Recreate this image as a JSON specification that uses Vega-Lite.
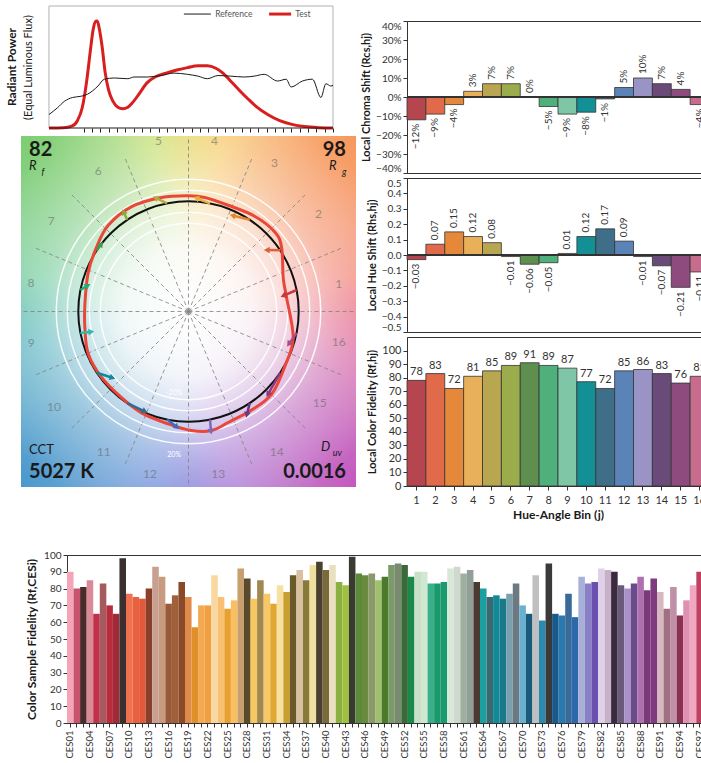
{
  "$schema": "https://vega.github.io/schema/vega-lite/v6.json",
  "background": "white",
  "padding": {"left": 5, "top": 5, "right": 1, "bottom": 1},
  "config": {
    "font": "Lato",
    "view": {"stroke": null},
    "axis": {"labelColor": "#333", "titleColor": "#1a1a1a", "domainColor": "#333", "tickColor": "#333", "grid": false, "labelFontSize": 10, "titleFontSize": 11, "titleFontWeight": "bold", "tickSize": 4, "labelPadding": 2}
  },
  "resolve": {"scale": {"color": "independent", "size": "independent", "strokeWidth": "independent", "angle": "independent"}},
  "datasets": {
    "bins": [
      {"bin": 1, "cs": -0.12, "hs": -0.03, "rf": 78},
      {"bin": 2, "cs": -0.09, "hs": 0.07, "rf": 83},
      {"bin": 3, "cs": -0.04, "hs": 0.15, "rf": 72},
      {"bin": 4, "cs": 0.03, "hs": 0.12, "rf": 81},
      {"bin": 5, "cs": 0.07, "hs": 0.08, "rf": 85},
      {"bin": 6, "cs": 0.07, "hs": -0.01, "rf": 89},
      {"bin": 7, "cs": 0.0, "hs": -0.06, "rf": 91},
      {"bin": 8, "cs": -0.05, "hs": -0.05, "rf": 89},
      {"bin": 9, "cs": -0.09, "hs": 0.01, "rf": 87},
      {"bin": 10, "cs": -0.08, "hs": 0.12, "rf": 77},
      {"bin": 11, "cs": -0.01, "hs": 0.17, "rf": 72},
      {"bin": 12, "cs": 0.05, "hs": 0.09, "rf": 85},
      {"bin": 13, "cs": 0.10, "hs": -0.01, "rf": 86},
      {"bin": 14, "cs": 0.07, "hs": -0.07, "rf": 83},
      {"bin": 15, "cs": 0.04, "hs": -0.21, "rf": 76},
      {"bin": 16, "cs": -0.04, "hs": -0.11, "rf": 81}
    ],
    "ces": [
      {"s": "CES01", "v": 90}, {"s": "CES02", "v": 80}, {"s": "CES03", "v": 81}, {"s": "CES04", "v": 85}, {"s": "CES05", "v": 65},
      {"s": "CES06", "v": 83}, {"s": "CES07", "v": 70}, {"s": "CES08", "v": 65}, {"s": "CES09", "v": 98}, {"s": "CES10", "v": 77},
      {"s": "CES11", "v": 75}, {"s": "CES12", "v": 74}, {"s": "CES13", "v": 80}, {"s": "CES14", "v": 93}, {"s": "CES15", "v": 87},
      {"s": "CES16", "v": 71}, {"s": "CES17", "v": 76}, {"s": "CES18", "v": 84}, {"s": "CES19", "v": 75}, {"s": "CES20", "v": 57},
      {"s": "CES21", "v": 70}, {"s": "CES22", "v": 70}, {"s": "CES23", "v": 88}, {"s": "CES24", "v": 75}, {"s": "CES25", "v": 68},
      {"s": "CES26", "v": 73}, {"s": "CES27", "v": 92}, {"s": "CES28", "v": 86}, {"s": "CES29", "v": 74}, {"s": "CES30", "v": 85},
      {"s": "CES31", "v": 77}, {"s": "CES32", "v": 71}, {"s": "CES33", "v": 82}, {"s": "CES34", "v": 78}, {"s": "CES35", "v": 88},
      {"s": "CES36", "v": 91}, {"s": "CES37", "v": 85}, {"s": "CES38", "v": 94}, {"s": "CES39", "v": 96}, {"s": "CES40", "v": 91},
      {"s": "CES41", "v": 94}, {"s": "CES42", "v": 84}, {"s": "CES43", "v": 82}, {"s": "CES44", "v": 99}, {"s": "CES45", "v": 89},
      {"s": "CES46", "v": 88}, {"s": "CES47", "v": 89}, {"s": "CES48", "v": 85}, {"s": "CES49", "v": 87}, {"s": "CES50", "v": 94},
      {"s": "CES51", "v": 95}, {"s": "CES52", "v": 94}, {"s": "CES53", "v": 87}, {"s": "CES54", "v": 90}, {"s": "CES55", "v": 90},
      {"s": "CES56", "v": 83}, {"s": "CES57", "v": 83}, {"s": "CES58", "v": 84}, {"s": "CES59", "v": 92}, {"s": "CES60", "v": 93},
      {"s": "CES61", "v": 89}, {"s": "CES62", "v": 91}, {"s": "CES63", "v": 84}, {"s": "CES64", "v": 80}, {"s": "CES65", "v": 75},
      {"s": "CES66", "v": 76}, {"s": "CES67", "v": 74}, {"s": "CES68", "v": 77}, {"s": "CES69", "v": 83}, {"s": "CES70", "v": 70},
      {"s": "CES71", "v": 65}, {"s": "CES72", "v": 88}, {"s": "CES73", "v": 61}, {"s": "CES74", "v": 95}, {"s": "CES75", "v": 65},
      {"s": "CES76", "v": 64}, {"s": "CES77", "v": 77}, {"s": "CES78", "v": 63}, {"s": "CES79", "v": 87}, {"s": "CES80", "v": 83},
      {"s": "CES81", "v": 84}, {"s": "CES82", "v": 92}, {"s": "CES83", "v": 91}, {"s": "CES84", "v": 90}, {"s": "CES85", "v": 82},
      {"s": "CES86", "v": 80}, {"s": "CES87", "v": 83}, {"s": "CES88", "v": 87}, {"s": "CES89", "v": 79}, {"s": "CES90", "v": 86},
      {"s": "CES91", "v": 78}, {"s": "CES92", "v": 68}, {"s": "CES93", "v": 81}, {"s": "CES94", "v": 64}, {"s": "CES95", "v": 73},
      {"s": "CES96", "v": 82}, {"s": "CES97", "v": 90}, {"s": "CES98", "v": 83}, {"s": "CES99", "v": 85}
    ],
    "spd": [
      {"series": "Test", "wl": 380, "p": 0}, {"series": "Test", "wl": 400, "p": 0.002}, {"series": "Test", "wl": 412, "p": 0.015},
      {"series": "Test", "wl": 420, "p": 0.06}, {"series": "Test", "wl": 427, "p": 0.17}, {"series": "Test", "wl": 433, "p": 0.38},
      {"series": "Test", "wl": 438, "p": 0.62}, {"series": "Test", "wl": 442, "p": 0.8}, {"series": "Test", "wl": 446, "p": 0.875},
      {"series": "Test", "wl": 448, "p": 0.877}, {"series": "Test", "wl": 451, "p": 0.81}, {"series": "Test", "wl": 455, "p": 0.66},
      {"series": "Test", "wl": 459, "p": 0.46}, {"series": "Test", "wl": 464, "p": 0.31}, {"series": "Test", "wl": 470, "p": 0.22},
      {"series": "Test", "wl": 477, "p": 0.17}, {"series": "Test", "wl": 484, "p": 0.158}, {"series": "Test", "wl": 491, "p": 0.17},
      {"series": "Test", "wl": 498, "p": 0.21}, {"series": "Test", "wl": 507, "p": 0.28}, {"series": "Test", "wl": 518, "p": 0.37},
      {"series": "Test", "wl": 530, "p": 0.42}, {"series": "Test", "wl": 545, "p": 0.45}, {"series": "Test", "wl": 560, "p": 0.475},
      {"series": "Test", "wl": 575, "p": 0.495}, {"series": "Test", "wl": 590, "p": 0.51}, {"series": "Test", "wl": 603, "p": 0.51},
      {"series": "Test", "wl": 615, "p": 0.49}, {"series": "Test", "wl": 625, "p": 0.45}, {"series": "Test", "wl": 635, "p": 0.39},
      {"series": "Test", "wl": 648, "p": 0.31}, {"series": "Test", "wl": 660, "p": 0.24}, {"series": "Test", "wl": 672, "p": 0.175},
      {"series": "Test", "wl": 688, "p": 0.11}, {"series": "Test", "wl": 705, "p": 0.06}, {"series": "Test", "wl": 722, "p": 0.03},
      {"series": "Test", "wl": 740, "p": 0.012}, {"series": "Test", "wl": 760, "p": 0.003}, {"series": "Test", "wl": 780, "p": 0},
      {"series": "Reference", "wl": 380, "p": 0.11}, {"series": "Reference", "wl": 392, "p": 0.166}, {"series": "Reference", "wl": 402, "p": 0.22},
      {"series": "Reference", "wl": 413, "p": 0.25}, {"series": "Reference", "wl": 425, "p": 0.26}, {"series": "Reference", "wl": 434, "p": 0.276},
      {"series": "Reference", "wl": 449, "p": 0.344}, {"series": "Reference", "wl": 458, "p": 0.4}, {"series": "Reference", "wl": 472, "p": 0.41},
      {"series": "Reference", "wl": 491, "p": 0.404}, {"series": "Reference", "wl": 500, "p": 0.418}, {"series": "Reference", "wl": 519, "p": 0.418},
      {"series": "Reference", "wl": 538, "p": 0.43}, {"series": "Reference", "wl": 556, "p": 0.45}, {"series": "Reference", "wl": 575, "p": 0.44},
      {"series": "Reference", "wl": 590, "p": 0.425}, {"series": "Reference", "wl": 603, "p": 0.404}, {"series": "Reference", "wl": 618, "p": 0.43},
      {"series": "Reference", "wl": 636, "p": 0.425}, {"series": "Reference", "wl": 655, "p": 0.418}, {"series": "Reference", "wl": 669, "p": 0.425},
      {"series": "Reference", "wl": 683, "p": 0.44}, {"series": "Reference", "wl": 702, "p": 0.385}, {"series": "Reference", "wl": 714, "p": 0.4},
      {"series": "Reference", "wl": 721, "p": 0.336}, {"series": "Reference", "wl": 737, "p": 0.385}, {"series": "Reference", "wl": 751, "p": 0.4},
      {"series": "Reference", "wl": 763, "p": 0.25}, {"series": "Reference", "wl": 770, "p": 0.363}, {"series": "Reference", "wl": 777, "p": 0.344},
      {"series": "Reference", "wl": 780, "p": 0.35}
    ],
    "frameG": [
      {"wl": 380, "wl2": 780, "p": 1, "p2": 1},
      {"wl": 780, "wl2": 780, "p": 0, "p2": 1},
      {"wl": 380, "wl2": 380, "p": 0, "p2": 1}
    ],
    "frameB": [{"wl": 380, "wl2": 780, "p": 0, "p2": 0}],
    "bgbox": [{"x": -1.52, "y": -1.5926, "x2": 1.52, "y2": 1.5926}],
    "spokes": [
      {"x": 0, "y": 0, "x2": 1.52, "y2": 0}, {"x": 0, "y": 0, "x2": 1.386, "y2": 0.574},
      {"x": 0, "y": 0, "x2": 1.061, "y2": 1.061}, {"x": 0, "y": 0, "x2": 0.574, "y2": 1.386},
      {"x": 0, "y": 0, "x2": 0, "y2": 1.59}, {"x": 0, "y": 0, "x2": -0.574, "y2": 1.386},
      {"x": 0, "y": 0, "x2": -1.061, "y2": 1.061}, {"x": 0, "y": 0, "x2": -1.386, "y2": 0.574},
      {"x": 0, "y": 0, "x2": -1.52, "y2": 0}, {"x": 0, "y": 0, "x2": -1.386, "y2": -0.574},
      {"x": 0, "y": 0, "x2": -1.061, "y2": -1.061}, {"x": 0, "y": 0, "x2": -0.574, "y2": -1.386},
      {"x": 0, "y": 0, "x2": 0, "y2": -1.59}, {"x": 0, "y": 0, "x2": 0.574, "y2": -1.386},
      {"x": 0, "y": 0, "x2": 1.061, "y2": -1.061}, {"x": 0, "y": 0, "x2": 1.386, "y2": -0.574}
    ],
    "rings": [{"x": 0, "y": 0, "r": 0.8}, {"x": 0, "y": 0, "r": 0.9}, {"x": 0, "y": 0, "r": 1.1}, {"x": 0, "y": 0, "r": 1.2}],
    "refring": [{"x": 0, "y": 0, "r": 1.0}],
    "binlab": [
      {"bin": 1, "x": 1.364, "y": 0.246}, {"bin": 2, "x": 1.18, "y": 0.883}, {"bin": 3, "x": 0.78, "y": 1.347},
      {"bin": 4, "x": 0.236, "y": 1.547}, {"bin": 5, "x": -0.273, "y": 1.547}, {"bin": 6, "x": -0.82, "y": 1.272},
      {"bin": 7, "x": -1.245, "y": 0.819}, {"bin": 8, "x": -1.43, "y": 0.257}, {"bin": 9, "x": -1.427, "y": -0.289},
      {"bin": 10, "x": -1.22, "y": -0.866}, {"bin": 11, "x": -0.77, "y": -1.272}, {"bin": 12, "x": -0.35, "y": -1.475},
      {"bin": 13, "x": 0.27, "y": -1.475}, {"bin": 14, "x": 0.8, "y": -1.272}, {"bin": 15, "x": 1.19, "y": -0.834},
      {"bin": 16, "x": 1.364, "y": -0.273}
    ],
    "pct": [{"x": -0.13, "y": -0.74, "t": "-20%"}, {"x": -0.13, "y": -1.3, "t": "20%"}],
    "testcurve": [
      {"i": 0, "x": 0.0, "y": 1.05}, {"i": 1, "x": -0.245, "y": 1.035}, {"i": 2, "x": -0.52, "y": 0.95},
      {"i": 3, "x": -0.73, "y": 0.78}, {"i": 4, "x": -0.836, "y": 0.58}, {"i": 5, "x": -0.91, "y": 0.355},
      {"i": 6, "x": -0.94, "y": 0.07}, {"i": 7, "x": -0.94, "y": -0.156}, {"i": 8, "x": -0.91, "y": -0.383},
      {"i": 9, "x": -0.79, "y": -0.596}, {"i": 10, "x": -0.61, "y": -0.78}, {"i": 11, "x": -0.427, "y": -0.92},
      {"i": 12, "x": -0.185, "y": -1.02}, {"i": 13, "x": 0.027, "y": -1.08}, {"i": 14, "x": 0.21, "y": -1.08},
      {"i": 15, "x": 0.36, "y": -1.007}, {"i": 16, "x": 0.573, "y": -0.894}, {"i": 17, "x": 0.755, "y": -0.75},
      {"i": 18, "x": 0.875, "y": -0.496}, {"i": 19, "x": 0.95, "y": -0.24}, {"i": 20, "x": 0.89, "y": 0.128},
      {"i": 21, "x": 0.86, "y": 0.3}, {"i": 22, "x": 0.845, "y": 0.58}, {"i": 23, "x": 0.785, "y": 0.72},
      {"i": 24, "x": 0.6, "y": 0.865}, {"i": 25, "x": 0.36, "y": 0.964}, {"i": 26, "x": 0.148, "y": 1.035}
    ],
    "arrows": [
      {"bin": 1, "x": 0.981, "y": 0.195, "x2": 0.868, "y2": 0.146, "dir": 247},
      {"bin": 2, "x": 0.832, "y": 0.556, "x2": 0.719, "y2": 0.557, "dir": 271},
      {"bin": 3, "x": 0.556, "y": 0.832, "x2": 0.408, "y2": 0.869, "dir": 284},
      {"bin": 4, "x": 0.195, "y": 0.981, "x2": 0.078, "y2": 1.027, "dir": 291},
      {"bin": 5, "x": -0.195, "y": 0.981, "x2": -0.292, "y2": 1.029, "dir": 296},
      {"bin": 6, "x": -0.556, "y": 0.832, "x2": -0.586, "y2": 0.896, "dir": 335},
      {"bin": 7, "x": -0.832, "y": 0.556, "x2": -0.797, "y2": 0.605, "dir": 35},
      {"bin": 8, "x": -0.981, "y": 0.195, "x2": -0.921, "y2": 0.232, "dir": 58},
      {"bin": 9, "x": -0.981, "y": -0.195, "x2": -0.891, "y2": -0.186, "dir": 84},
      {"bin": 10, "x": -0.832, "y": -0.556, "x2": -0.698, "y2": -0.599, "dir": 108},
      {"bin": 11, "x": -0.556, "y": -0.832, "x2": -0.403, "y2": -0.904, "dir": 115},
      {"bin": 12, "x": -0.195, "y": -0.981, "x2": -0.111, "y2": -1.044, "dir": 127},
      {"bin": 13, "x": 0.195, "y": -0.981, "x2": 0.204, "y2": -1.081, "dir": 175},
      {"bin": 14, "x": 0.556, "y": -0.832, "x2": 0.531, "y2": -0.929, "dir": 194},
      {"bin": 15, "x": 0.832, "y": -0.556, "x2": 0.725, "y2": -0.745, "dir": 209},
      {"bin": 16, "x": 0.981, "y": -0.195, "x2": 0.915, "y2": -0.289, "dir": 215}
    ]
  },
  "vconcat": [
    {
      "resolve": {"scale": {"color": "independent", "size": "independent", "strokeWidth": "independent", "angle": "independent"}},
      "hconcat": [
        {
          "resolve": {"scale": {"color": "independent", "size": "independent", "strokeWidth": "independent", "angle": "independent"}},
          "vconcat": [
            {
              "width": 312,
              "height": 122,
              "view": {"stroke": null},
              "title": {"text": "Radiant Power", "orient": "left", "fontSize": 12, "fontWeight": "bold", "offset": 2, "color": "#1a1a1a"},
              "encoding": {
                "x": {"field": "wl", "type": "quantitative", "scale": {"domain": [340.6, 780], "nice": false, "zero": false},
                      "axis": {"title": null, "domain": false, "labels": false, "ticks": true, "tickColor": "#222", "tickSize": 4, "tickCount": 40,
                               "values": [429, 440.7, 452.4, 464.1, 475.8, 487.5, 499.2, 510.9, 522.6, 534.3, 546, 557.7, 569.4, 581.1, 592.8, 604.5, 616.2, 627.9, 639.6, 651.3, 663, 674.7, 686.4, 698.1, 709.8, 721.5, 733.2, 744.9, 756.6, 768.3, 780]}},
                "y": {"field": "p", "type": "quantitative", "scale": {"domain": [0, 1], "nice": false},
                      "axis": {"title": "(Equal Luminous Flux)", "titleFontWeight": "normal", "titleFontSize": 11, "domain": false, "ticks": false, "labels": false, "offset": -28, "titlePadding": 16}}
              },
              "layer": [
                {"data": {"name": "frameG"}, "mark": {"type": "rule", "color": "#b0b0b0", "strokeWidth": 1},
                 "encoding": {"x2": {"field": "wl2"}, "y2": {"field": "p2"}}},
                {"data": {"name": "spd"}, "mark": {"type": "line", "interpolate": "monotone"},
                 "encoding": {
                   "color": {"field": "series", "type": "nominal", "scale": {"domain": ["Reference", "Test"], "range": ["#1a1a1a", "#d91e1e"]}, "legend": null},
                   "strokeWidth": {"field": "series", "type": "nominal", "scale": {"domain": ["Reference", "Test"], "range": [1, 3]}, "legend": null}
                 }},
                {"data": {"name": "frameB"}, "mark": {"type": "rule", "color": "#1a1a1a", "strokeWidth": 1.2},
                 "encoding": {"x2": {"field": "wl2"}, "y2": {"field": "p2"}}},
                {"data": {"values": [{"wl": 570, "wl2": 608, "p": 0.934, "p2": 0.934}]}, "mark": {"type": "rule", "color": "#1a1a1a", "strokeWidth": 1},
                 "encoding": {"x2": {"field": "wl2"}, "y2": {"field": "p2"}}},
                {"data": {"values": [{"wl": 690, "wl2": 721, "p": 0.934, "p2": 0.934}]}, "mark": {"type": "rule", "color": "#d91e1e", "strokeWidth": 3},
                 "encoding": {"x2": {"field": "wl2"}, "y2": {"field": "p2"}}},
                {"data": {"values": [{"wl": 614, "p": 0.934, "t": "Reference"}, {"wl": 727, "p": 0.934, "t": "Test"}]},
                 "mark": {"type": "text", "align": "left", "baseline": "middle", "fontSize": 8.5, "color": "#555"},
                 "encoding": {"text": {"field": "t"}}}
              ]
            },
            {
              "width": 335,
              "height": 351,
              "view": {"stroke": null},
              "encoding": {
                "x": {"field": "x", "type": "quantitative", "scale": {"domain": [-1.52, 1.52], "nice": false, "zero": false}, "axis": null},
                "y": {"field": "y", "type": "quantitative", "scale": {"domain": [-1.5926, 1.5926], "nice": false, "zero": false}, "axis": null}
              },
              "layer": [
                {"data": {"name": "bgbox"}, "mark": {"type": "rect", "fill": "#f3f1ef"}, "encoding": {"x2": {"field": "x2"}, "y2": {"field": "y2"}}},
                {"data": {"name": "bgbox"}, "mark": {"type": "rect", "fill": {"gradient": "radial", "x1": 0.5, "y1": 0, "r1": 0, "x2": 0.5, "y2": 0, "r2": 0.6, "stops": [{"offset": 0, "color": "rgba(250,238,120,1)"}, {"offset": 0.5, "color": "rgba(250,238,120,0.55)"}, {"offset": 1, "color": "rgba(250,238,120,0)"}]}}, "encoding": {"x2": {"field": "x2"}, "y2": {"field": "y2"}}},
                {"data": {"name": "bgbox"}, "mark": {"type": "rect", "fill": {"gradient": "radial", "x1": 1, "y1": 0.5, "r1": 0, "x2": 1, "y2": 0.5, "r2": 0.6, "stops": [{"offset": 0, "color": "rgba(240,120,140,1)"}, {"offset": 0.5, "color": "rgba(240,120,140,0.55)"}, {"offset": 1, "color": "rgba(240,120,140,0)"}]}}, "encoding": {"x2": {"field": "x2"}, "y2": {"field": "y2"}}},
                {"data": {"name": "bgbox"}, "mark": {"type": "rect", "fill": {"gradient": "radial", "x1": 0.5, "y1": 1, "r1": 0, "x2": 0.5, "y2": 1, "r2": 0.6, "stops": [{"offset": 0, "color": "rgba(140,140,230,1)"}, {"offset": 0.5, "color": "rgba(140,140,230,0.55)"}, {"offset": 1, "color": "rgba(140,140,230,0)"}]}}, "encoding": {"x2": {"field": "x2"}, "y2": {"field": "y2"}}},
                {"data": {"name": "bgbox"}, "mark": {"type": "rect", "fill": {"gradient": "radial", "x1": 0, "y1": 0.5, "r1": 0, "x2": 0, "y2": 0.5, "r2": 0.6, "stops": [{"offset": 0, "color": "rgba(100,200,185,1)"}, {"offset": 0.5, "color": "rgba(100,200,185,0.55)"}, {"offset": 1, "color": "rgba(100,200,185,0)"}]}}, "encoding": {"x2": {"field": "x2"}, "y2": {"field": "y2"}}},
                {"data": {"name": "bgbox"}, "mark": {"type": "rect", "fill": {"gradient": "radial", "x1": 0, "y1": 0, "r1": 0, "x2": 0, "y2": 0, "r2": 0.6, "stops": [{"offset": 0, "color": "rgba(120,205,110,1)"}, {"offset": 0.5, "color": "rgba(120,205,110,0.55)"}, {"offset": 1, "color": "rgba(120,205,110,0)"}]}}, "encoding": {"x2": {"field": "x2"}, "y2": {"field": "y2"}}},
                {"data": {"name": "bgbox"}, "mark": {"type": "rect", "fill": {"gradient": "radial", "x1": 1, "y1": 0, "r1": 0, "x2": 1, "y2": 0, "r2": 0.6, "stops": [{"offset": 0, "color": "rgba(248,150,90,1)"}, {"offset": 0.5, "color": "rgba(248,150,90,0.55)"}, {"offset": 1, "color": "rgba(248,150,90,0)"}]}}, "encoding": {"x2": {"field": "x2"}, "y2": {"field": "y2"}}},
                {"data": {"name": "bgbox"}, "mark": {"type": "rect", "fill": {"gradient": "radial", "x1": 1, "y1": 1, "r1": 0, "x2": 1, "y2": 1, "r2": 0.6, "stops": [{"offset": 0, "color": "rgba(195,85,190,1)"}, {"offset": 0.5, "color": "rgba(195,85,190,0.55)"}, {"offset": 1, "color": "rgba(195,85,190,0)"}]}}, "encoding": {"x2": {"field": "x2"}, "y2": {"field": "y2"}}},
                {"data": {"name": "bgbox"}, "mark": {"type": "rect", "fill": {"gradient": "radial", "x1": 0, "y1": 1, "r1": 0, "x2": 0, "y2": 1, "r2": 0.6, "stops": [{"offset": 0, "color": "rgba(70,150,205,1)"}, {"offset": 0.5, "color": "rgba(70,150,205,0.55)"}, {"offset": 1, "color": "rgba(70,150,205,0)"}]}}, "encoding": {"x2": {"field": "x2"}, "y2": {"field": "y2"}}},
                {"data": {"name": "bgbox"}, "mark": {"type": "rect", "fill": {"gradient": "radial", "x1": 0.5, "y1": 0.5, "r1": 0, "x2": 0.5, "y2": 0.5, "r2": 0.62, "stops": [{"offset": 0, "color": "rgba(255,255,255,1)"}, {"offset": 0.3, "color": "rgba(255,255,255,0.85)"}, {"offset": 0.65, "color": "rgba(255,255,255,0.35)"}, {"offset": 1, "color": "rgba(255,255,255,0)"}]}}, "encoding": {"x2": {"field": "x2"}, "y2": {"field": "y2"}}},
                {"data": {"name": "spokes"}, "mark": {"type": "rule", "color": "#858585", "strokeDash": [4, 3], "strokeWidth": 1, "opacity": 0.85},
                 "encoding": {"x2": {"field": "x2"}, "y2": {"field": "y2"}}},
                {"data": {"name": "rings"}, "mark": {"type": "point", "shape": "circle", "filled": false, "color": "white", "strokeWidth": 1.5, "opacity": 0.9},
                 "encoding": {"size": {"field": "r", "type": "quantitative", "scale": {"type": "pow", "exponent": 2, "domain": [0, 1.2], "range": [0, 69950]}, "legend": null}}},
                {"data": {"name": "binlab"}, "mark": {"type": "text", "fontSize": 12, "color": "#6a6a6a", "opacity": 0.6},
                 "encoding": {"text": {"field": "bin"}}},
                {"data": {"name": "pct"}, "mark": {"type": "text", "fontSize": 7, "color": "white"},
                 "encoding": {"text": {"field": "t"}}},
                {"data": {"name": "refring"}, "mark": {"type": "point", "shape": "circle", "filled": false, "color": "#111111", "strokeWidth": 2, "opacity": 1},
                 "encoding": {"size": {"field": "r", "type": "quantitative", "scale": {"type": "pow", "exponent": 2, "domain": [0, 1.2], "range": [0, 69950]}, "legend": null}}},
                {"data": {"name": "testcurve"}, "mark": {"type": "line", "interpolate": "cardinal-closed", "color": "#e8473a", "strokeWidth": 3},
                 "encoding": {"order": {"field": "i", "type": "quantitative"}}},
                {"data": {"name": "arrows"}, "mark": {"type": "rule", "strokeWidth": 2.5},
                 "encoding": {"x2": {"field": "x2"}, "y2": {"field": "y2"},
                              "color": {"field": "bin", "type": "ordinal", "scale": {"range": ["#c8383e", "#e0603e", "#e8862e", "#e8b040", "#b8a640", "#8aaa40", "#3f9a55", "#2aa878", "#38b8a8", "#108a9a", "#2a6e98", "#3f6ab8", "#7a6ab8", "#6a3a80", "#8a3a80", "#b04a80"]}, "legend": null}}},
                {"data": {"name": "arrows"}, "mark": {"type": "point", "shape": "triangle", "filled": true, "size": 45, "opacity": 1},
                 "encoding": {"x": {"field": "x2", "type": "quantitative", "scale": {"domain": [-1.52, 1.52], "nice": false, "zero": false}, "axis": null},
                              "y": {"field": "y2", "type": "quantitative", "scale": {"domain": [-1.5926, 1.5926], "nice": false, "zero": false}, "axis": null},
                              "angle": {"field": "dir", "type": "quantitative", "scale": {"domain": [0, 360], "range": [0, 360]}},
                              "color": {"field": "bin", "type": "ordinal", "scale": {"range": ["#c8383e", "#e0603e", "#e8862e", "#e8b040", "#b8a640", "#8aaa40", "#3f9a55", "#2aa878", "#38b8a8", "#108a9a", "#2a6e98", "#3f6ab8", "#7a6ab8", "#6a3a80", "#8a3a80", "#b04a80"]}, "legend": null}}},
                {"data": {"values": [{"x": -1.447, "y": 1.556, "t": "82"}, {"x": -1.447, "y": -1.366, "t": "5027 K"}]},
                 "mark": {"type": "text", "align": "left", "baseline": "top", "fontSize": 20, "fontWeight": "bold", "color": "#1a1a1a"},
                 "encoding": {"text": {"field": "t"}}},
                {"data": {"values": [{"x": 1.429, "y": 1.556, "t": "98"}, {"x": 1.429, "y": -1.366, "t": "0.0016"}]},
                 "mark": {"type": "text", "align": "right", "baseline": "top", "fontSize": 20, "fontWeight": "bold", "color": "#1a1a1a"},
                 "encoding": {"text": {"field": "t"}}},
                {"data": {"values": [{"x": -1.447, "y": 1.375, "t": "R"}, {"x": 1.275, "y": 1.375, "t": "R"}, {"x": 1.202, "y": -1.175, "t": "D"}]},
                 "mark": {"type": "text", "align": "left", "baseline": "top", "fontSize": 13, "fontStyle": "italic", "color": "#1a1a1a"},
                 "encoding": {"text": {"field": "t"}}},
                {"data": {"values": [{"x": -1.335, "y": 1.3, "t": "f"}, {"x": 1.392, "y": 1.3, "t": "g"}, {"x": 1.31, "y": -1.25, "t": "uv"}]},
                 "mark": {"type": "text", "align": "left", "baseline": "top", "fontSize": 9, "fontStyle": "italic", "color": "#1a1a1a"},
                 "encoding": {"text": {"field": "t"}}},
                {"data": {"values": [{"x": -1.447, "y": -1.2, "t": "CCT"}]},
                 "mark": {"type": "text", "align": "left", "baseline": "top", "fontSize": 13, "color": "#1a1a1a"},
                 "encoding": {"text": {"field": "t"}}}
              ]
            }
          ],
          "spacing": 1
        },
        {
          "resolve": {"scale": {"color": "independent", "size": "independent", "strokeWidth": "independent", "angle": "independent"}},
          "vconcat": [
            {
              "width": 302,
              "height": 10,
              "view": {"stroke": null},
              "data": {"values": [{}]},
              "mark": {"type": "point", "opacity": 0},
              "encoding": {}
            },
            {
              "width": 302,
              "height": 152,
              "view": {"stroke": "#333"},
              "data": {"name": "bins"},
              "layer": [
                {"mark": {"type": "bar", "stroke": "#333", "strokeWidth": 0.8},
                 "encoding": {
                   "x": {"field": "bin", "type": "ordinal", "scale": {"paddingInner": 0, "paddingOuter": 0}, "axis": null},
                   "y": {"field": "cs", "type": "quantitative", "scale": {"domain": [-0.4, 0.4], "nice": false},
                         "axis": {"title": "Local Chroma Shift (Rcs,hj)", "format": ".0%", "values": [-0.4, -0.3, -0.2, -0.1, 0, 0.1, 0.2, 0.3, 0.4], "tickCount": 9, "titlePadding": 4, "labelOverlap": false, "labelFlush": true}},
                   "color": {"field": "bin", "type": "ordinal", "scale": {"range": ["#b5454f", "#e06a4a", "#e6883a", "#e8b058", "#b9a650", "#9aac4c", "#5f8f4f", "#4fb07c", "#7fc6a6", "#138f96", "#3f6f88", "#5a83b8", "#9a94c6", "#6a4a78", "#8e4c7e", "#c86c8e"]}, "legend": null}
                 }},
                {"mark": {"type": "rule", "color": "#333", "strokeWidth": 1},
                 "encoding": {"y": {"datum": 0, "type": "quantitative", "scale": {"domain": [-0.4, 0.4], "nice": false},
                                    "axis": {"title": "Local Chroma Shift (Rcs,hj)", "format": ".0%", "values": [-0.4, -0.3, -0.2, -0.1, 0, 0.1, 0.2, 0.3, 0.4], "tickCount": 9, "titlePadding": 4, "labelOverlap": false, "labelFlush": true}}}},
                {"transform": [{"filter": "datum.cs >= 0"}],
                 "mark": {"type": "text", "angle": 270, "align": "left", "baseline": "middle", "dx": 4, "fontSize": 10, "color": "#333"},
                 "encoding": {
                   "x": {"field": "bin", "type": "ordinal", "scale": {"paddingInner": 0, "paddingOuter": 0}, "axis": null},
                   "y": {"field": "cs", "type": "quantitative", "scale": {"domain": [-0.4, 0.4], "nice": false},
                         "axis": {"title": "Local Chroma Shift (Rcs,hj)", "format": ".0%", "values": [-0.4, -0.3, -0.2, -0.1, 0, 0.1, 0.2, 0.3, 0.4], "tickCount": 9, "titlePadding": 4, "labelOverlap": false, "labelFlush": true}},
                   "text": {"field": "cs", "type": "quantitative", "format": ".0%"}
                 }},
                {"transform": [{"filter": "datum.cs < 0"}],
                 "mark": {"type": "text", "angle": 270, "align": "right", "baseline": "middle", "dx": -4, "fontSize": 10, "color": "#333"},
                 "encoding": {
                   "x": {"field": "bin", "type": "ordinal", "scale": {"paddingInner": 0, "paddingOuter": 0}, "axis": null},
                   "y": {"field": "cs", "type": "quantitative", "scale": {"domain": [-0.4, 0.4], "nice": false},
                         "axis": {"title": "Local Chroma Shift (Rcs,hj)", "format": ".0%", "values": [-0.4, -0.3, -0.2, -0.1, 0, 0.1, 0.2, 0.3, 0.4], "tickCount": 9, "titlePadding": 4, "labelOverlap": false, "labelFlush": true}},
                   "text": {"field": "cs", "type": "quantitative", "format": ".0%"}
                 }}
              ]
            },
            {
              "width": 302,
              "height": 154,
              "view": {"stroke": "#333"},
              "data": {"name": "bins"},
              "layer": [
                {"mark": {"type": "bar", "stroke": "#333", "strokeWidth": 0.8},
                 "encoding": {
                   "x": {"field": "bin", "type": "ordinal", "scale": {"paddingInner": 0, "paddingOuter": 0}, "axis": null},
                   "y": {"field": "hs", "type": "quantitative", "scale": {"domain": [-0.5, 0.5], "nice": false},
                         "axis": {"title": "Local Hue Shift (Rhs,hj)", "format": ".1f", "values": [-0.5, -0.4, -0.3, -0.2, -0.1, 0, 0.1, 0.2, 0.3, 0.4, 0.5], "tickCount": 11, "titlePadding": 4, "labelOverlap": false, "labelFlush": true}},
                   "color": {"field": "bin", "type": "ordinal", "scale": {"range": ["#b5454f", "#e06a4a", "#e6883a", "#e8b058", "#b9a650", "#9aac4c", "#5f8f4f", "#4fb07c", "#7fc6a6", "#138f96", "#3f6f88", "#5a83b8", "#9a94c6", "#6a4a78", "#8e4c7e", "#c86c8e"]}, "legend": null}
                 }},
                {"mark": {"type": "rule", "color": "#333", "strokeWidth": 1},
                 "encoding": {"y": {"datum": 0, "type": "quantitative", "scale": {"domain": [-0.5, 0.5], "nice": false},
                                    "axis": {"title": "Local Hue Shift (Rhs,hj)", "format": ".1f", "values": [-0.5, -0.4, -0.3, -0.2, -0.1, 0, 0.1, 0.2, 0.3, 0.4, 0.5], "tickCount": 11, "titlePadding": 4, "labelOverlap": false, "labelFlush": true}}}},
                {"transform": [{"filter": "datum.hs >= 0"}],
                 "mark": {"type": "text", "angle": 270, "align": "left", "baseline": "middle", "dx": 4, "fontSize": 10, "color": "#333"},
                 "encoding": {
                   "x": {"field": "bin", "type": "ordinal", "scale": {"paddingInner": 0, "paddingOuter": 0}, "axis": null},
                   "y": {"field": "hs", "type": "quantitative", "scale": {"domain": [-0.5, 0.5], "nice": false},
                         "axis": {"title": "Local Hue Shift (Rhs,hj)", "format": ".1f", "values": [-0.5, -0.4, -0.3, -0.2, -0.1, 0, 0.1, 0.2, 0.3, 0.4, 0.5], "tickCount": 11, "titlePadding": 4, "labelOverlap": false, "labelFlush": true}},
                   "text": {"field": "hs", "type": "quantitative", "format": ".2f"}
                 }},
                {"transform": [{"filter": "datum.hs < 0"}],
                 "mark": {"type": "text", "angle": 270, "align": "right", "baseline": "middle", "dx": -4, "fontSize": 10, "color": "#333"},
                 "encoding": {
                   "x": {"field": "bin", "type": "ordinal", "scale": {"paddingInner": 0, "paddingOuter": 0}, "axis": null},
                   "y": {"field": "hs", "type": "quantitative", "scale": {"domain": [-0.5, 0.5], "nice": false},
                         "axis": {"title": "Local Hue Shift (Rhs,hj)", "format": ".1f", "values": [-0.5, -0.4, -0.3, -0.2, -0.1, 0, 0.1, 0.2, 0.3, 0.4, 0.5], "tickCount": 11, "titlePadding": 4, "labelOverlap": false, "labelFlush": true}},
                   "text": {"field": "hs", "type": "quantitative", "format": ".2f"}
                 }}
              ]
            },
            {
              "width": 302,
              "height": 149,
              "view": {"stroke": "#333"},
              "data": {"name": "bins"},
              "layer": [
                {"mark": {"type": "bar", "stroke": "#333", "strokeWidth": 0.8},
                 "encoding": {
                   "x": {"field": "bin", "type": "ordinal", "scale": {"paddingInner": 0, "paddingOuter": 0},
                         "axis": {"title": "Hue-Angle Bin (j)", "titleFontSize": 12, "labelAngle": 0, "labelFontSize": 11, "labelPadding": 4, "titlePadding": 4}},
                   "y": {"field": "rf", "type": "quantitative", "scale": {"domain": [0, 110], "nice": false},
                         "axis": {"title": "Local Color Fidelity (Rf,hj)", "values": [0, 10, 20, 30, 40, 50, 60, 70, 80, 90, 100], "tickCount": 11, "labelFontSize": 11, "titlePadding": 4, "labelOverlap": false}},
                   "color": {"field": "bin", "type": "ordinal", "scale": {"range": ["#b5454f", "#e06a4a", "#e6883a", "#e8b058", "#b9a650", "#9aac4c", "#5f8f4f", "#4fb07c", "#7fc6a6", "#138f96", "#3f6f88", "#5a83b8", "#9a94c6", "#6a4a78", "#8e4c7e", "#c86c8e"]}, "legend": null}
                 }},
                {"mark": {"type": "text", "baseline": "bottom", "dy": -3, "fontSize": 11, "color": "#333"},
                 "encoding": {
                   "x": {"field": "bin", "type": "ordinal", "scale": {"paddingInner": 0, "paddingOuter": 0},
                         "axis": {"title": "Hue-Angle Bin (j)", "titleFontSize": 12, "labelAngle": 0, "labelFontSize": 11, "labelPadding": 4, "titlePadding": 4}},
                   "y": {"field": "rf", "type": "quantitative", "scale": {"domain": [0, 110], "nice": false},
                         "axis": {"title": "Local Color Fidelity (Rf,hj)", "values": [0, 10, 20, 30, 40, 50, 60, 70, 80, 90, 100], "tickCount": 11, "labelFontSize": 11, "titlePadding": 4, "labelOverlap": false}},
                   "text": {"field": "rf", "type": "quantitative"}
                 }}
              ]
            }
          ],
          "spacing": 5,
          "bounds": "flush"
        }
      ],
      "spacing": 3
    },
    {
      "resolve": {"scale": {"color": "independent", "size": "independent", "strokeWidth": "independent", "angle": "independent"}},
      "hconcat": [
        {
          "width": 1,
          "height": 1,
          "view": {"stroke": null},
          "data": {"values": [{}]},
          "mark": {"type": "point", "opacity": 0},
          "encoding": {}
        },
        {
          "width": 649,
          "height": 168,
          "view": {"stroke": "#333"},
          "data": {"name": "ces"},
          "mark": {"type": "bar"},
          "encoding": {
            "x": {"field": "s", "type": "nominal", "scale": {"paddingInner": 0, "paddingOuter": 0},
                  "axis": {"title": null, "labelAngle": 270, "labelFontSize": 9.5, "labelPadding": 3,
                           "labelExpr": "(toNumber(slice(datum.value, 3)) - 1) % 3 == 0 ? datum.value : ''"}},
            "y": {"field": "v", "type": "quantitative", "scale": {"domain": [0, 100], "nice": false},
                  "axis": {"title": "Color Sample Fidelity (Rf,CESi)", "titleFontSize": 12, "values": [0, 10, 20, 30, 40, 50, 60, 70, 80, 90, 100], "tickCount": 11, "titlePadding": 5, "labelOverlap": false}},
            "color": {"field": "s", "type": "nominal", "legend": null,
                      "scale": {"range": ["#f4a6b8", "#c8536e", "#4a2a2a", "#d98a96", "#c0304a", "#a55a5f", "#b82c3c", "#a02a38", "#3a3030", "#f0704f",
                                          "#e8603c", "#e05a3a", "#8a3f2a", "#c8a090", "#c89a80", "#9a5a3a", "#a0603a", "#8a4a2a", "#e08a4a", "#e0902a",
                                          "#f4a850", "#f0a040", "#f8d8a0", "#f8c070", "#e8a030", "#f8c060", "#c8a070", "#5a4a2a", "#f8c860", "#a08850",
                                          "#f8c868", "#e0a830", "#f8e0a0", "#c8a030", "#6a5a2a", "#d8c0a0", "#8a7a3a", "#f0e0a0", "#4a4030", "#7a6a3a",
                                          "#e8e0c0", "#8ab040", "#a0c040", "#3a3a30", "#5a8a3a", "#6a8a40", "#8a9a6a", "#a0c070", "#4a7a2a", "#7a9a6a",
                                          "#7a8a70", "#3a6a3a", "#1a8a4a", "#c8e0c8", "#d0e8d0", "#3ab08a", "#1a9a6a", "#1a9a70", "#d8e8d8", "#d0d8d0",
                                          "#a0b0a0", "#90a098", "#4a3a30", "#1aa0a0", "#3a6a70", "#108a9a", "#1a7a8a", "#7aa0b0", "#6a7a80", "#6ab0d0",
                                          "#1a5a7a", "#c0c0c0", "#2a8ab0", "#3a3a3a", "#1a5a8a", "#2a7ab0", "#3a6a9a", "#2a6aaa", "#a8b0d8", "#8a80c8",
                                          "#6a50b0", "#e0d0e8", "#c8b0c8", "#3a2a40", "#6a5a7a", "#a890c8", "#6a4a8a", "#b070b0", "#7a3a7a", "#803a80",
                                          "#d8b8c0", "#a07080", "#c090a8", "#8a3050", "#e090b0", "#f0a8c0", "#c04060", "#d05070", "#e07090"]}}
          }
        }
      ],
      "spacing": 0
    }
  ],
  "spacing": 28
}
